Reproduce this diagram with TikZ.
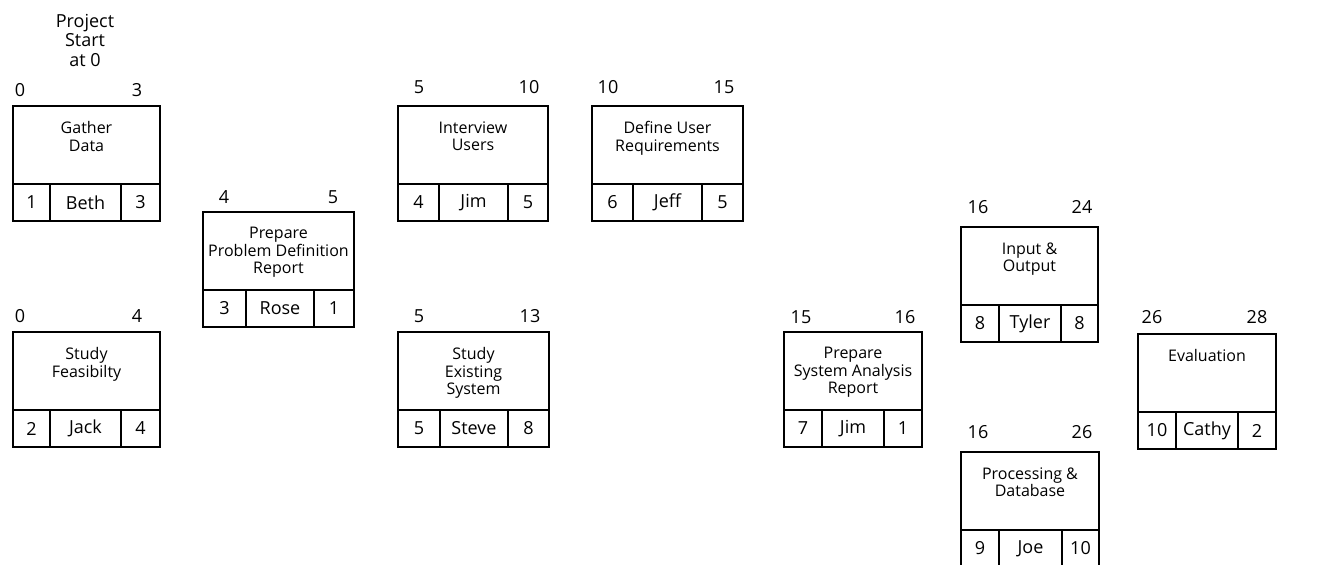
\documentclass[tikz,border=0pt]{standalone}
\usepackage{fontspec}
\setmainfont{Open Sans}
\usetikzlibrary{calc}

% Activity box: name, left, top, right, first and second cell split, title
\newcommand{\taskbox}[7]{%
  \coordinate (#1-nw) at (#2,#3);
  \coordinate (#1-se) at (#4,#3+115);
  \coordinate (#1-rl) at (#2,#3+78);
  \coordinate (#1-rr) at (#4,#3+78);
  \coordinate (#1-s1) at (#5,#3+78);
  \coordinate (#1-s2) at (#6,#3+78);
  \coordinate (#1-a) at ({(#2+#5)/2},#3+96.5);
  \coordinate (#1-b) at ({(#5+#6)/2},#3+96.5);
  \coordinate (#1-c) at ({(#6+#4)/2},#3+96.5);
  \draw[split] (#1-s1) -- (#1-s1 |- #1-se);
  \draw[split] (#1-s2) -- (#1-s2 |- #1-se);
  \draw[frame] (#1-rl) -- (#1-rr);
  \draw[frame] (#1-nw) rectangle (#1-se);
  \node[tasktitle] (#1-title) at ({(#2+#4)/2},#3+15) {#7};
}
% Bottom row: number, person, duration
\newcommand{\taskcells}[4]{%
  \node[cell] (#1-num) at (#1-a) {#2};
  \node[cell] (#1-who) at (#1-b) {#3};
  \node[cell] (#1-dur) at (#1-c) {#4};
}
% Start and finish times above a box
\newcommand{\tasktimes}[6]{%
  \node[time] (#1-es) at (#2,#4) {#5};
  \node[time] (#1-ef) at (#3,#4) {#6};
}

\begin{document}
\begin{tikzpicture}[x=0.5pt,y=-0.5pt,
  frame/.style={draw=black, line width=1pt},
  split/.style={draw=black, line width=0.6pt},
  tasktitle/.style={anchor=north, align=center, inner sep=0pt,
    font=\fontsize{8}{8.75}\selectfont},
  cell/.style={inner sep=0pt, font=\fontsize{9}{10}\selectfont},
  time/.style={inner sep=0pt, font=\fontsize{9}{10}\selectfont},
  note/.style={align=center, inner sep=0pt, font=\fontsize{9}{9.75}\selectfont},
]
\useasboundingbox (0,0) rectangle (1336,564);
\clip (0,0) rectangle (1336,564);

\node[note] (start) at (85,40) {Project\\Start\\at 0};

\taskbox{gather}{13}{106}{160}{50}{121}{Gather\\Data}
\taskcells{gather}{1}{Beth}{3}
\tasktimes{gather}{20}{137}{90}{0}{3}

\taskbox{feas}{13}{332}{160}{50}{121}{Study\\Feasibilty}
\taskcells{feas}{2}{Jack}{4}
\tasktimes{feas}{20}{137}{316}{0}{4}

\taskbox{report}{203}{212}{354}{246}{314}{Prepare\\Problem Definition\\Report}
\taskcells{report}{3}{Rose}{1}
\tasktimes{report}{224}{333}{197}{4}{5}

\taskbox{interview}{398}{106}{548}{439}{508}{Interview\\Users}
\taskcells{interview}{4}{Jim}{5}
\tasktimes{interview}{419}{529}{87}{5}{10}

\taskbox{require}{592}{106}{743}{633}{702}{Define User\\Requirements}
\taskcells{require}{6}{Jeff}{5}
\tasktimes{require}{608}{724}{87}{10}{15}

\taskbox{existing}{398}{332}{549}{440}{508}{Study\\Existing\\System}
\taskcells{existing}{5}{Steve}{8}
\tasktimes{existing}{419}{530}{316}{5}{13}

\taskbox{analysis}{784}{332}{922}{822}{884}{Prepare\\System Analysis\\Report}
\taskcells{analysis}{7}{Jim}{1}
\tasktimes{analysis}{801}{905}{317}{15}{16}

\taskbox{io}{961}{227}{1098}{999}{1061}{Input \&\\Output}
\taskcells{io}{8}{Tyler}{8}
\tasktimes{io}{978}{1082}{207}{16}{24}

\taskbox{db}{961}{452}{1099}{999}{1062}{Processing \&\\Database}
\taskcells{db}{9}{Joe}{10}
\tasktimes{db}{978}{1082}{432}{16}{26}

\taskbox{eval}{1138}{334}{1276}{1176}{1238}{Evaluation}
\taskcells{eval}{10}{Cathy}{2}
\tasktimes{eval}{1152}{1257}{317}{26}{28}
\end{tikzpicture}
\end{document}
